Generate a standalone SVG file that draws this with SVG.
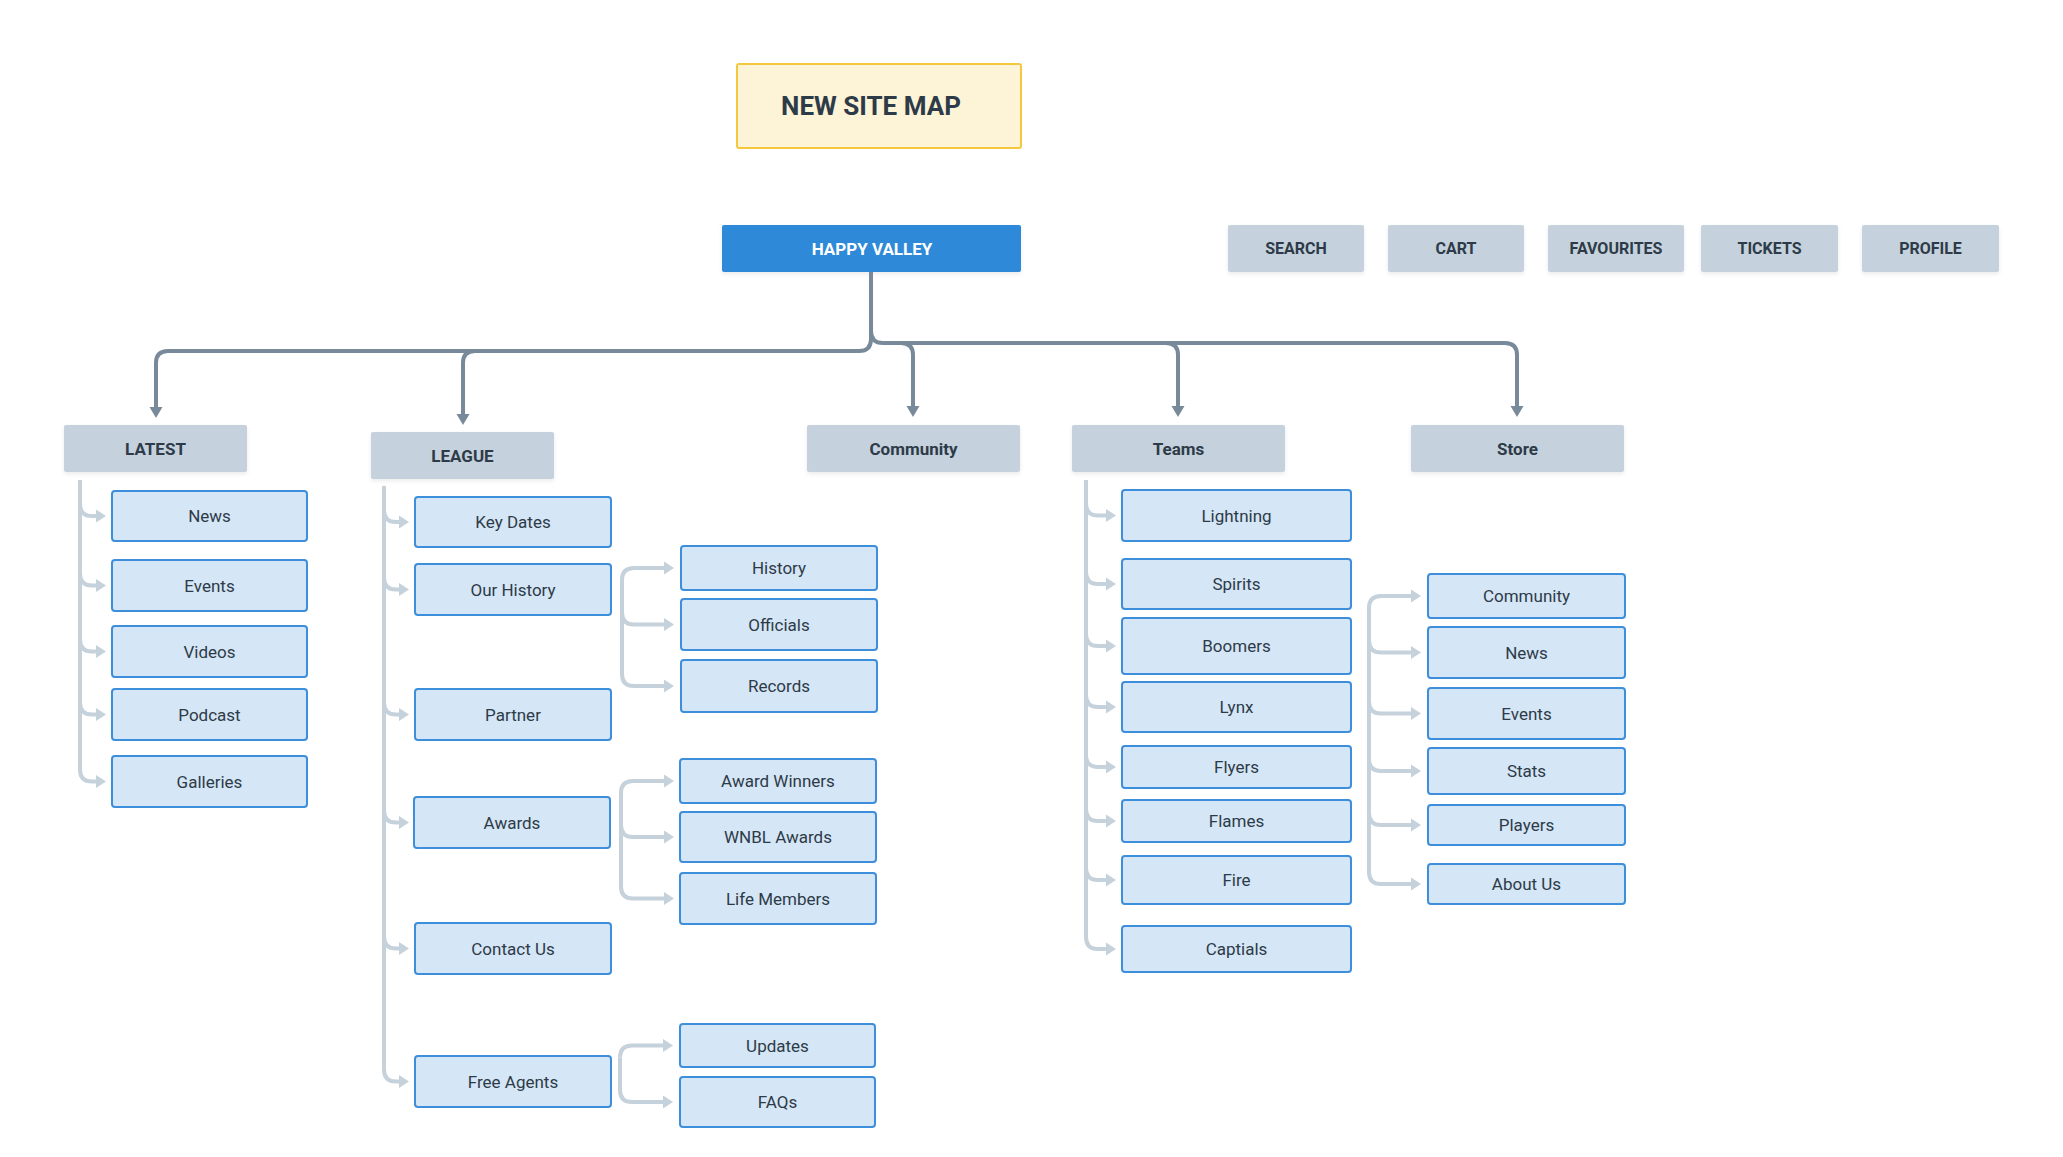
<svg xmlns="http://www.w3.org/2000/svg" width="2063" height="1157" viewBox="0 0 2063 1157">
<defs>
<marker id="ad" markerUnits="userSpaceOnUse" markerWidth="14" markerHeight="14" viewBox="0 -7 11 14" refX="0" refY="0" orient="auto"><path d="M0,-6.5 L11,0 L0,6.5 Z" fill="#788a99"/></marker>
<marker id="al" markerUnits="userSpaceOnUse" markerWidth="12" markerHeight="14" viewBox="0 -7 10 14" refX="0" refY="0" orient="auto"><path d="M0,-6.5 L10,0 L0,6.5 Z" fill="#c5d1db"/></marker>
<filter id="sh" x="-5%" y="-10%" width="110%" height="130%"><feDropShadow dx="0" dy="2" stdDeviation="2" flood-color="#000" flood-opacity="0.08"/></filter>
</defs>
<style>
text{font-family:Roboto,"Liberation Sans",sans-serif;fill:#2d3b48;text-anchor:middle;dominant-baseline:central}
.c rect{fill:#d5e6f6;stroke:#3d8edb;stroke-width:2}
.c text{font-size:17px}
.h rect{fill:#c5d1dc;filter:url(#sh)}
.h text{font-size:17px;font-weight:bold}
.t rect{fill:#c5d1dc;filter:url(#sh)}
.t text{font-size:16px;font-weight:bold}
.dk{fill:none;stroke:#788a99;stroke-width:4;marker-end:url(#ad)}
.dk0{fill:none;stroke:#788a99;stroke-width:4}
.lt{fill:none;stroke:#c5d1db;stroke-width:4;marker-end:url(#al)}
</style>

<g id="title"><rect x="737" y="64" width="284" height="84" rx="2" fill="#fdf3d7" stroke="#f3c83f" stroke-width="2"/><text x="871" y="106" style="font-size:26px;font-weight:bold">NEW SITE MAP</text></g>

<g id="happy-valley"><rect x="722" y="225" width="299" height="47" rx="2" fill="#2e8ad8" filter="url(#sh)"/><text x="872" y="248.5" style="font-size:17px;font-weight:bold;fill:#ffffff">HAPPY VALLEY</text></g>

<g id="search" class="t"><rect x="1228" y="225" width="136" height="47" rx="2"/><text x="1296" y="248.5">SEARCH</text></g>
<g id="cart" class="t"><rect x="1388" y="225" width="136" height="47" rx="2"/><text x="1456" y="248.5">CART</text></g>
<g id="favourites" class="t"><rect x="1548" y="225" width="136" height="47" rx="2"/><text x="1616" y="248.5">FAVOURITES</text></g>
<g id="tickets" class="t"><rect x="1701" y="225" width="137" height="47" rx="2"/><text x="1769.5" y="248.5">TICKETS</text></g>
<g id="profile" class="t"><rect x="1862" y="225" width="137" height="47" rx="2"/><text x="1930.5" y="248.5">PROFILE</text></g>

<g id="connectors">
<path class="dk0" d="M871,272 L871,339 Q871,351 859,351 L168,351 Q156,351 156,363 L156,407"/>
<path class="dk" d="M156,363 L156,407"/>
<path class="dk" d="M475,351 Q463,351 463,363 L463,414"/>
<path class="dk0" d="M871,331 Q871,343 883,343 L1505,343 Q1517,343 1517,355"/>
<path class="dk" d="M1517,355 L1517,406"/>
<path class="dk" d="M901,343 Q913,343 913,355 L913,406"/>
<path class="dk" d="M1166,343 Q1178,343 1178,355 L1178,406"/>

<path class="lt" d="M80,480 L80,769.5 Q80,781.5 92,781.5 L96,781.5"/>
<path class="lt" d="M80,504 Q80,516 92,516 L96,516"/>
<path class="lt" d="M80,573.5 Q80,585.5 92,585.5 L96,585.5"/>
<path class="lt" d="M80,639.5 Q80,651.5 92,651.5 L96,651.5"/>
<path class="lt" d="M80,702.5 Q80,714.5 92,714.5 L96,714.5"/>

<path class="lt" d="M384,486 L384,1069.5 Q384,1081.5 396,1081.5 L399,1081.5"/>
<path class="lt" d="M384,510 Q384,522 396,522 L399,522"/>
<path class="lt" d="M384,577.5 Q384,589.5 396,589.5 L399,589.5"/>
<path class="lt" d="M384,702.5 Q384,714.5 396,714.5 L399,714.5"/>
<path class="lt" d="M384,810.5 Q384,822.5 396,822.5 L399,822.5"/>
<path class="lt" d="M384,936.5 Q384,948.5 396,948.5 L399,948.5"/>

<path class="lt" d="M622,580 Q622,568 634,568 L664,568"/>
<path class="lt" d="M622,612.5 Q622,624.5 634,624.5 L664,624.5"/>
<path class="lt" d="M622,580 L622,674 Q622,686 634,686 L664,686"/>

<path class="lt" d="M621,793 Q621,781 633,781 L664,781"/>
<path class="lt" d="M621,825 Q621,837 633,837 L664,837"/>
<path class="lt" d="M621,793 L621,886.5 Q621,898.5 633,898.5 L664,898.5"/>

<path class="lt" d="M620,1057.5 Q620,1045.5 632,1045.5 L663,1045.5"/>
<path class="lt" d="M620,1057.5 L620,1090 Q620,1102 632,1102 L663,1102"/>

<path class="lt" d="M1086,480 L1086,937 Q1086,949 1098,949 L1106,949"/>
<path class="lt" d="M1086,503.5 Q1086,515.5 1098,515.5 L1106,515.5"/>
<path class="lt" d="M1086,572 Q1086,584 1098,584 L1106,584"/>
<path class="lt" d="M1086,634 Q1086,646 1098,646 L1106,646"/>
<path class="lt" d="M1086,695 Q1086,707 1098,707 L1106,707"/>
<path class="lt" d="M1086,755 Q1086,767 1098,767 L1106,767"/>
<path class="lt" d="M1086,809 Q1086,821 1098,821 L1106,821"/>
<path class="lt" d="M1086,868 Q1086,880 1098,880 L1106,880"/>

<path class="lt" d="M1369,608 Q1369,596 1381,596 L1411,596"/>
<path class="lt" d="M1369,640.5 Q1369,652.5 1381,652.5 L1411,652.5"/>
<path class="lt" d="M1369,701.5 Q1369,713.5 1381,713.5 L1411,713.5"/>
<path class="lt" d="M1369,759 Q1369,771 1381,771 L1411,771"/>
<path class="lt" d="M1369,813 Q1369,825 1381,825 L1411,825"/>
<path class="lt" d="M1369,608 L1369,872 Q1369,884 1381,884 L1411,884"/>
</g>

<g id="latest" class="h"><rect x="64" y="425" width="183" height="47" rx="2"/><text x="155.5" y="448.5">LATEST</text></g>
<g id="league" class="h"><rect x="371" y="432" width="183" height="47" rx="2"/><text x="462.5" y="455.5">LEAGUE</text></g>
<g id="community" class="h"><rect x="807" y="425" width="213" height="47" rx="2"/><text x="913.5" y="448.5">Community</text></g>
<g id="teams" class="h"><rect x="1072" y="425" width="213" height="47" rx="2"/><text x="1178.5" y="448.5">Teams</text></g>
<g id="store" class="h"><rect x="1411" y="425" width="213" height="47" rx="2"/><text x="1517.5" y="448.5">Store</text></g>

<g id="latest-news" class="c"><rect x="112" y="491" width="195" height="50" rx="3"/><text x="209.5" y="516">News</text></g>
<g id="latest-events" class="c"><rect x="112" y="560" width="195" height="51" rx="3"/><text x="209.5" y="585.5">Events</text></g>
<g id="latest-videos" class="c"><rect x="112" y="626" width="195" height="51" rx="3"/><text x="209.5" y="651.5">Videos</text></g>
<g id="latest-podcast" class="c"><rect x="112" y="689" width="195" height="51" rx="3"/><text x="209.5" y="714.5">Podcast</text></g>
<g id="latest-galleries" class="c"><rect x="112" y="756" width="195" height="51" rx="3"/><text x="209.5" y="781.5">Galleries</text></g>

<g id="key-dates" class="c"><rect x="415" y="497" width="196" height="50" rx="3"/><text x="513" y="522">Key Dates</text></g>
<g id="our-history" class="c"><rect x="415" y="564" width="196" height="51" rx="3"/><text x="513" y="589.5">Our History</text></g>
<g id="partner" class="c"><rect x="415" y="689" width="196" height="51" rx="3"/><text x="513" y="714.5">Partner</text></g>
<g id="awards" class="c"><rect x="414" y="797" width="196" height="51" rx="3"/><text x="512" y="822.5">Awards</text></g>
<g id="contact-us" class="c"><rect x="415" y="923" width="196" height="51" rx="3"/><text x="513" y="948.5">Contact Us</text></g>
<g id="free-agents" class="c"><rect x="415" y="1056" width="196" height="51" rx="3"/><text x="513" y="1081.5">Free Agents</text></g>

<g id="history" class="c"><rect x="681" y="546" width="196" height="44" rx="3"/><text x="779" y="568">History</text></g>
<g id="officials" class="c"><rect x="681" y="599" width="196" height="51" rx="3"/><text x="779" y="624.5">Officials</text></g>
<g id="records" class="c"><rect x="681" y="660" width="196" height="52" rx="3"/><text x="779" y="686">Records</text></g>
<g id="award-winners" class="c"><rect x="680" y="759" width="196" height="44" rx="3"/><text x="778" y="781">Award Winners</text></g>
<g id="wnbl-awards" class="c"><rect x="680" y="812" width="196" height="50" rx="3"/><text x="778" y="837">WNBL Awards</text></g>
<g id="life-members" class="c"><rect x="680" y="873" width="196" height="51" rx="3"/><text x="778" y="898.5">Life Members</text></g>
<g id="updates" class="c"><rect x="680" y="1024" width="195" height="43" rx="3"/><text x="777.5" y="1045.5">Updates</text></g>
<g id="faqs" class="c"><rect x="680" y="1077" width="195" height="50" rx="3"/><text x="777.5" y="1102">FAQs</text></g>

<g id="lightning" class="c"><rect x="1122" y="490" width="229" height="51" rx="3"/><text x="1236.5" y="515.5">Lightning</text></g>
<g id="spirits" class="c"><rect x="1122" y="559" width="229" height="50" rx="3"/><text x="1236.5" y="584">Spirits</text></g>
<g id="boomers" class="c"><rect x="1122" y="618" width="229" height="56" rx="3"/><text x="1236.5" y="646">Boomers</text></g>
<g id="lynx" class="c"><rect x="1122" y="682" width="229" height="50" rx="3"/><text x="1236.5" y="707">Lynx</text></g>
<g id="flyers" class="c"><rect x="1122" y="746" width="229" height="42" rx="3"/><text x="1236.5" y="767">Flyers</text></g>
<g id="flames" class="c"><rect x="1122" y="800" width="229" height="42" rx="3"/><text x="1236.5" y="821">Flames</text></g>
<g id="fire" class="c"><rect x="1122" y="856" width="229" height="48" rx="3"/><text x="1236.5" y="880">Fire</text></g>
<g id="captials" class="c"><rect x="1122" y="926" width="229" height="46" rx="3"/><text x="1236.5" y="949">Captials</text></g>

<g id="store-community" class="c"><rect x="1428" y="574" width="197" height="44" rx="3"/><text x="1526.5" y="596">Community</text></g>
<g id="store-news" class="c"><rect x="1428" y="627" width="197" height="51" rx="3"/><text x="1526.5" y="652.5">News</text></g>
<g id="store-events" class="c"><rect x="1428" y="688" width="197" height="51" rx="3"/><text x="1526.5" y="713.5">Events</text></g>
<g id="stats" class="c"><rect x="1428" y="748" width="197" height="46" rx="3"/><text x="1526.5" y="771">Stats</text></g>
<g id="players" class="c"><rect x="1428" y="805" width="197" height="40" rx="3"/><text x="1526.5" y="825">Players</text></g>
<g id="about-us" class="c"><rect x="1428" y="864" width="197" height="40" rx="3"/><text x="1526.5" y="884">About Us</text></g>
</svg>
